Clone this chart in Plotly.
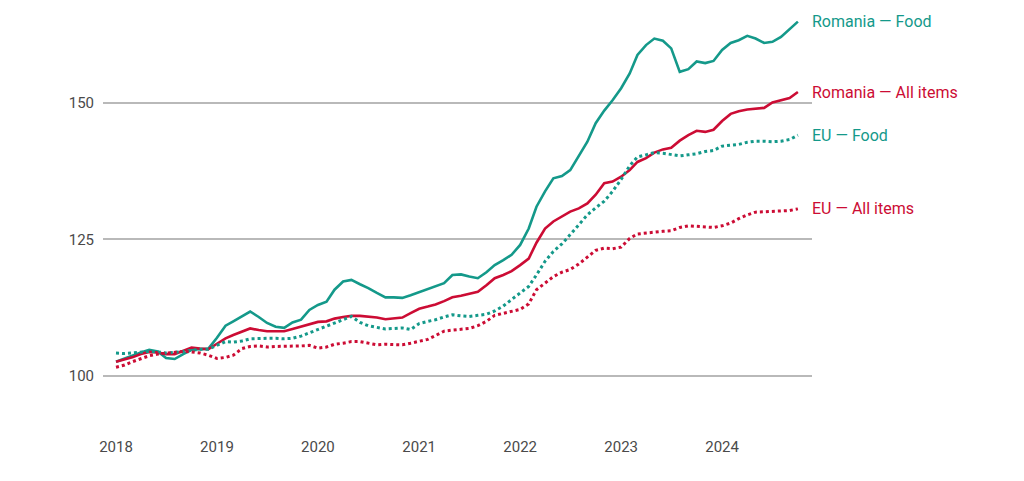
import pandas as pd
import plotly.graph_objects as go

months = pd.date_range("2018-01-01", "2024-10-01", freq="MS")

romania_food = [
    102.6, 103.2, 103.8, 104.3, 104.8, 104.5, 103.3, 103.1, 104.0, 104.8, 104.9, 105.0,
    107.0, 109.2, 110.0, 110.9, 111.8, 110.8, 109.7, 109.0, 108.8, 109.8, 110.3, 112.1,
    113.0, 113.6, 115.8, 117.3, 117.6, 116.8, 116.1, 115.2, 114.4, 114.4, 114.3, 114.8,
    115.4, 116.0, 116.5, 117.0, 118.5, 118.6, 118.2, 117.9, 119.0, 120.3, 121.2, 122.2,
    124.0, 127.0, 131.0, 133.8, 136.2, 136.6, 137.7, 140.2, 142.9, 146.3, 148.6, 150.5,
    152.7, 155.4, 158.8, 160.6, 161.8, 161.4, 160.0, 155.7, 156.2, 157.6, 157.3, 157.7,
    159.7, 161.0, 161.5, 162.3, 161.8, 161.0, 161.2, 162.1, 163.5, 164.9,
]
romania_all = [
    102.6, 103.0, 103.4, 104.0, 104.4, 104.3, 104.0, 104.0, 104.6, 105.2, 105.0, 104.9,
    105.9, 106.9, 107.5, 108.1, 108.7, 108.4, 108.2, 108.2, 108.2, 108.6, 109.0, 109.4,
    109.9, 110.0, 110.5, 110.8, 111.0, 111.0, 110.9, 110.7, 110.4, 110.5, 110.7, 111.5,
    112.3, 112.7, 113.1, 113.7, 114.4, 114.7, 115.0, 115.4, 116.6, 117.9, 118.5, 119.2,
    120.3, 121.5, 124.4, 127.0, 128.3, 129.2, 130.1, 130.7, 131.6, 133.2, 135.3, 135.6,
    136.5, 137.7, 139.2, 139.9, 140.9, 141.5, 141.8, 143.1, 144.1, 144.9, 144.7, 145.1,
    146.7, 148.0, 148.5, 148.8, 149.0, 149.1, 150.1, 150.5, 150.9, 152.0,
]
eu_food = [
    104.2, 104.1, 104.2, 104.3, 104.5, 104.4, 104.2, 104.3, 104.5, 104.8, 104.9, 104.9,
    105.6, 106.3, 106.2, 106.4, 106.8, 106.9, 106.9, 106.9, 106.8, 106.9, 107.3, 107.9,
    108.5, 109.0, 109.6, 110.3, 110.9, 109.8, 109.2, 108.9, 108.6, 108.7, 108.8, 108.5,
    109.6, 110.0, 110.3, 110.8, 111.2, 111.0, 110.9, 111.1, 111.3, 111.9, 112.8, 114.0,
    115.2, 116.4, 118.5, 121.0, 122.8, 124.2, 125.9, 127.6, 129.5, 130.8, 132.0, 133.8,
    136.0, 138.5, 140.1, 140.5, 140.9, 140.8, 140.5, 140.3, 140.5, 140.7, 141.1, 141.3,
    142.1, 142.2, 142.4, 142.8, 143.0, 143.0, 142.9, 143.0, 143.3, 144.1,
]
eu_all = [
    101.6, 102.0, 102.6, 103.2, 103.7, 104.0, 104.2, 104.3, 104.5, 104.4, 104.2, 103.8,
    103.2, 103.4, 103.8, 105.0, 105.4, 105.5, 105.3, 105.4, 105.4, 105.4, 105.5, 105.6,
    105.1, 105.3, 105.8, 106.0, 106.3, 106.3, 106.0, 105.7, 105.8, 105.8, 105.7, 106.0,
    106.3, 106.7, 107.4, 108.2, 108.4, 108.6, 108.7, 109.2, 110.0, 111.1, 111.5, 111.9,
    112.2, 113.2, 115.8, 117.0, 118.2, 119.0, 119.5, 120.5, 121.7, 123.0, 123.4, 123.3,
    123.6, 125.2, 126.0, 126.2, 126.4, 126.5, 126.6, 127.2, 127.5, 127.4, 127.2, 127.2,
    127.5, 128.0, 128.8, 129.5, 130.0, 130.1, 130.2, 130.2, 130.3, 130.6,
]

series_names = ["Romania — Food", "Romania — All items", "EU — Food", "EU — All items"]
year_ticks = ["2018", "2019", "2020", "2021", "2022", "2023", "2024"]
y_ticks = [100, 125, 150]

TEAL = "#14998a"
RED = "#cc0c34"
FONT = "Roboto, sans-serif"

series = [
    (romania_food, series_names[0], TEAL, "solid", 2.6),
    (romania_all, series_names[1], RED, "solid", 2.6),
    (eu_food, series_names[2], TEAL, "dot", 3),
    (eu_all, series_names[3], RED, "dot", 3),
]

fig = go.Figure()
for vals, name, color, dash, w in series:
    fig.add_trace(go.Scatter(
        x=months, y=vals, mode="lines", name=name,
        line=dict(color=color, width=w, dash=dash),
        hoverinfo="skip",
    ))
    fig.add_annotation(
        x=months[-1], y=vals[-1], text=name, showarrow=False,
        xanchor="left", yanchor="middle", xshift=12,
        font=dict(family=FONT, size=16, color=color),
    )

fig.update_layout(
    width=1024, height=481,
    margin=dict(l=95, r=220, t=2, b=53),
    paper_bgcolor="white", plot_bgcolor="white",
    showlegend=False,
    font=dict(family=FONT, size=15, color="#4a4a4a"),
    xaxis=dict(
        range=["2017-11-15", "2024-11-21"],
        tickvals=[f"{y}-01-01" for y in year_ticks],
        ticktext=year_ticks,
        showgrid=False, zeroline=False, showline=False, ticks="",
    ),
    yaxis=dict(
        range=[89.0, 167.03],
        tickvals=y_ticks,
        ticktext=[str(v) for v in y_ticks],
        showgrid=True, gridcolor="#b9b9b9", gridwidth=1.5,
        zeroline=False, showline=False, ticks="",
        ticklabelstandoff=8,
    ),
)

fig.write_html("out.html")
